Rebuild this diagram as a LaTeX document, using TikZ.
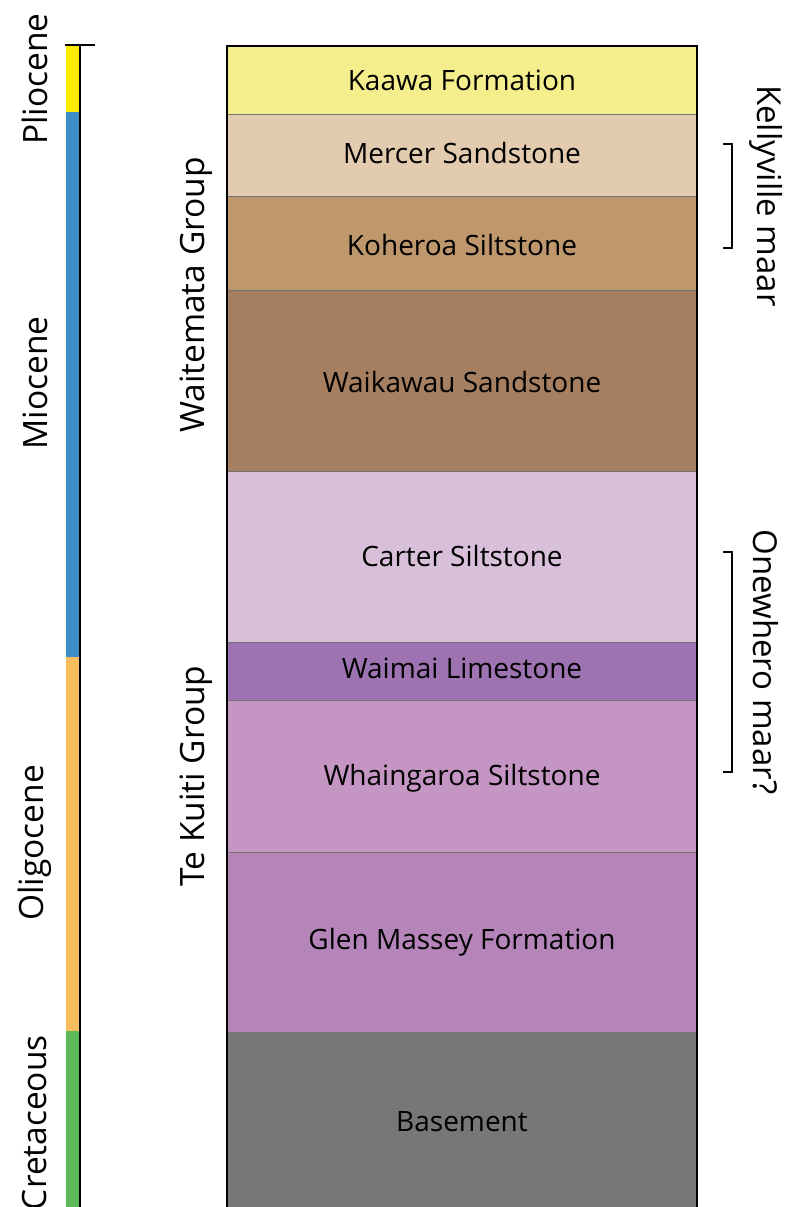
\documentclass[tikz,border=0pt]{standalone}
\usepackage{fontspec}
\setmainfont{Open Sans}
\definecolor{kaawa}{HTML}{F5EE8C}
\definecolor{mercer}{HTML}{E3CBAF}
\definecolor{koheroa}{HTML}{BF976D}
\definecolor{waikawau}{HTML}{A67F60}
\definecolor{carter}{HTML}{D9C0DA}
\definecolor{waimai}{HTML}{9E73B1}
\definecolor{whaing}{HTML}{C596C4}
\definecolor{glen}{HTML}{B585B9}
\definecolor{basement}{HTML}{777777}
\definecolor{plio}{HTML}{FFEB00}
\definecolor{mio}{HTML}{3F8DC8}
\definecolor{oligo}{HTML}{F8BE5E}
\definecolor{creta}{HTML}{5DB95A}
\begin{document}
\begin{tikzpicture}[x=1pt,y=-1pt,
  layertext/.style={font=\fontsize{28}{32}\selectfont, inner sep=0pt},
  epochtext/.style={font=\fontsize{33.5}{38}\selectfont, inner sep=0pt, rotate=90},
  sidetext/.style={font=\fontsize{33}{38}\selectfont, inner sep=0pt},
  layerline/.style={draw=black!55, line width=0.8pt},
  bracket/.style={draw=black, line width=2.5pt}]
\useasboundingbox (0,0) rectangle (786,1207);
% layers
\fill[kaawa] (227,46) rectangle (697,114);
\fill[mercer] (227,114) rectangle (697,196);
\fill[koheroa] (227,196) rectangle (697,290);
\fill[waikawau] (227,290) rectangle (697,471);
\fill[carter] (227,471) rectangle (697,642);
\fill[waimai] (227,642) rectangle (697,700);
\fill[whaing] (227,700) rectangle (697,852);
\fill[glen] (227,852) rectangle (697,1032);
\fill[basement] (227,1032) rectangle (697,1210);
\foreach \yy in {114,196,290,471,642,700,852,1032}
  \draw[layerline] (227,\yy) -- (697,\yy);
\draw[black, line width=2.5pt] (227,1210) -- (227,46) -- (697,46) -- (697,1210);
% layer labels
\node[layertext] (kaawa) at (462,80) {Kaawa Formation};
\node[layertext] (mercer) at (462,153) {Mercer Sandstone};
\node[layertext] (koheroa) at (462,245) {Koheroa Siltstone};
\node[layertext] (waikawau) at (462,382) {Waikawau Sandstone};
\node[layertext] (carter) at (462,556) {Carter Siltstone};
\node[layertext] (waimai) at (462,668) {Waimai Limestone};
\node[layertext] (whaing) at (462,778) {Whaingaroa Siltstone};
\node[layertext] (glen) at (462,942) {Glen Massey Formation};
\node[layertext] (base) at (462,1122) {Basement};
% epoch bar
\fill[plio] (66,46) rectangle (79,112);
\fill[mio] (66,112) rectangle (79,657);
\fill[oligo] (66,657) rectangle (79,1031);
\fill[creta] (66,1031) rectangle (79,1210);
\draw[black, line width=2.5pt] (80,1210) -- (80,45);
\draw[black, line width=2.5pt] (65,45) -- (95,45);
\node[epochtext] (plio) at (35,79) {Pliocene};
\node[epochtext] (mio) at (35,383) {Miocene};
\node[epochtext] (oligo) at (35,843) {Oligocene};
\node[epochtext, anchor=east] (creta) at (35,1035) {Cretaceous};
% groups
\node[epochtext] (wait) at (196,295) {Waitemata Group};
\node[epochtext] (kuiti) at (196,776) {Te Kuiti Group};
% brackets
\draw[bracket] (723,144) -- (732,144) -- (732,248) -- (723,248);
\draw[bracket] (723,552) -- (732,552) -- (732,772) -- (723,772);
\node[sidetext, rotate=-90] (kelly) at (766,196) {Kellyville maar};
\node[sidetext, rotate=-90] (onew) at (766,662) {Onewhero maar?};
\end{tikzpicture}
\end{document}
